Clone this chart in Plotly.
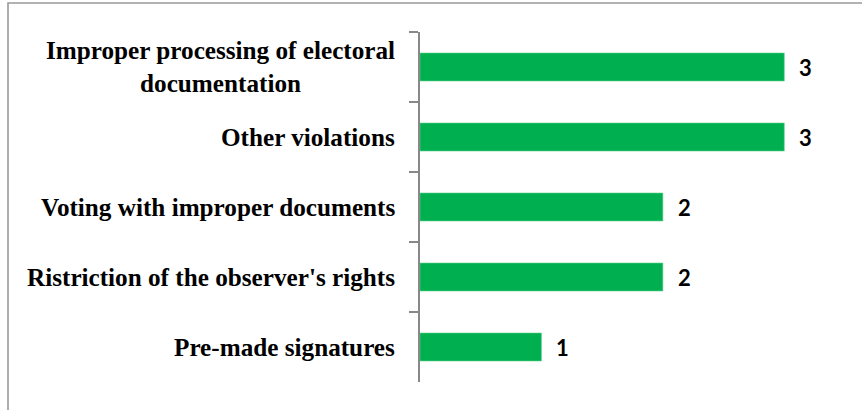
import plotly.graph_objects as go

categories = [
    "Improper processing of electoral<br>documentation",
    "Other violations",
    "Voting with improper documents",
    "Ristriction of the observer's rights",
    "Pre-made signatures",
]
counts = [3, 3, 2, 2, 1]

BAR_COLOR = "#00B050"
AXIS_GRAY = "#888888"
W, H = 862, 410
ML, MR, MT, MB = 420, 17, 32, 28
plot_w = W - ML - MR
plot_h = H - MT - MB

fig = go.Figure(
    go.Bar(
        x=counts,
        y=categories,
        orientation="h",
        marker=dict(color=BAR_COLOR, line=dict(color="#5fd08f", width=0.6)),
        width=0.4,
        hoverinfo="skip",
    )
)

# value labels next to each bar
for c, v in zip(categories, counts):
    fig.add_annotation(
        x=v, y=c, xref="x", yref="y", text=f"<b>{v}</b>",
        showarrow=False, xanchor="left", xshift=13,
        font=dict(family="Lato, Open Sans, sans-serif", size=22, color="#000000"),
    )

# category labels, centred line by line
for c in categories:
    fig.add_annotation(
        x=-23 / plot_w, y=c, xref="paper", yref="y", text=f"<b>{c}</b>",
        showarrow=False, xanchor="right", align="center",
        font=dict(family="Liberation Serif, serif", size=25.2, color="#000000"),
    )

# outer chart border
def px_x(p):
    return (p - ML) / plot_w

def px_y(p):
    return (H - MB - p) / plot_h

fig.add_shape(
    type="rect", xref="paper", yref="paper",
    x0=px_x(8), x1=px_x(W + 20), y0=px_y(H + 20), y1=px_y(3),
    line=dict(color="#999999", width=1.6), fillcolor="rgba(0,0,0,0)",
    layer="below",
)

fig.update_layout(
    width=W, height=H,
    margin=dict(l=ML, r=MR, t=MT, b=MB),
    paper_bgcolor="white", plot_bgcolor="white",
    showlegend=False,
    xaxis=dict(visible=False, range=[0, 3.5], fixedrange=True),
    yaxis=dict(
        categoryorder="array", categoryarray=categories,
        autorange="reversed",
        showticklabels=False,
        showline=True, linecolor=AXIS_GRAY, linewidth=1.5,
        ticks="outside", tickson="boundaries", ticklen=9,
        tickcolor=AXIS_GRAY, tickwidth=1.5,
        showgrid=False, zeroline=False,
    ),
)

fig.write_html("out.html")
